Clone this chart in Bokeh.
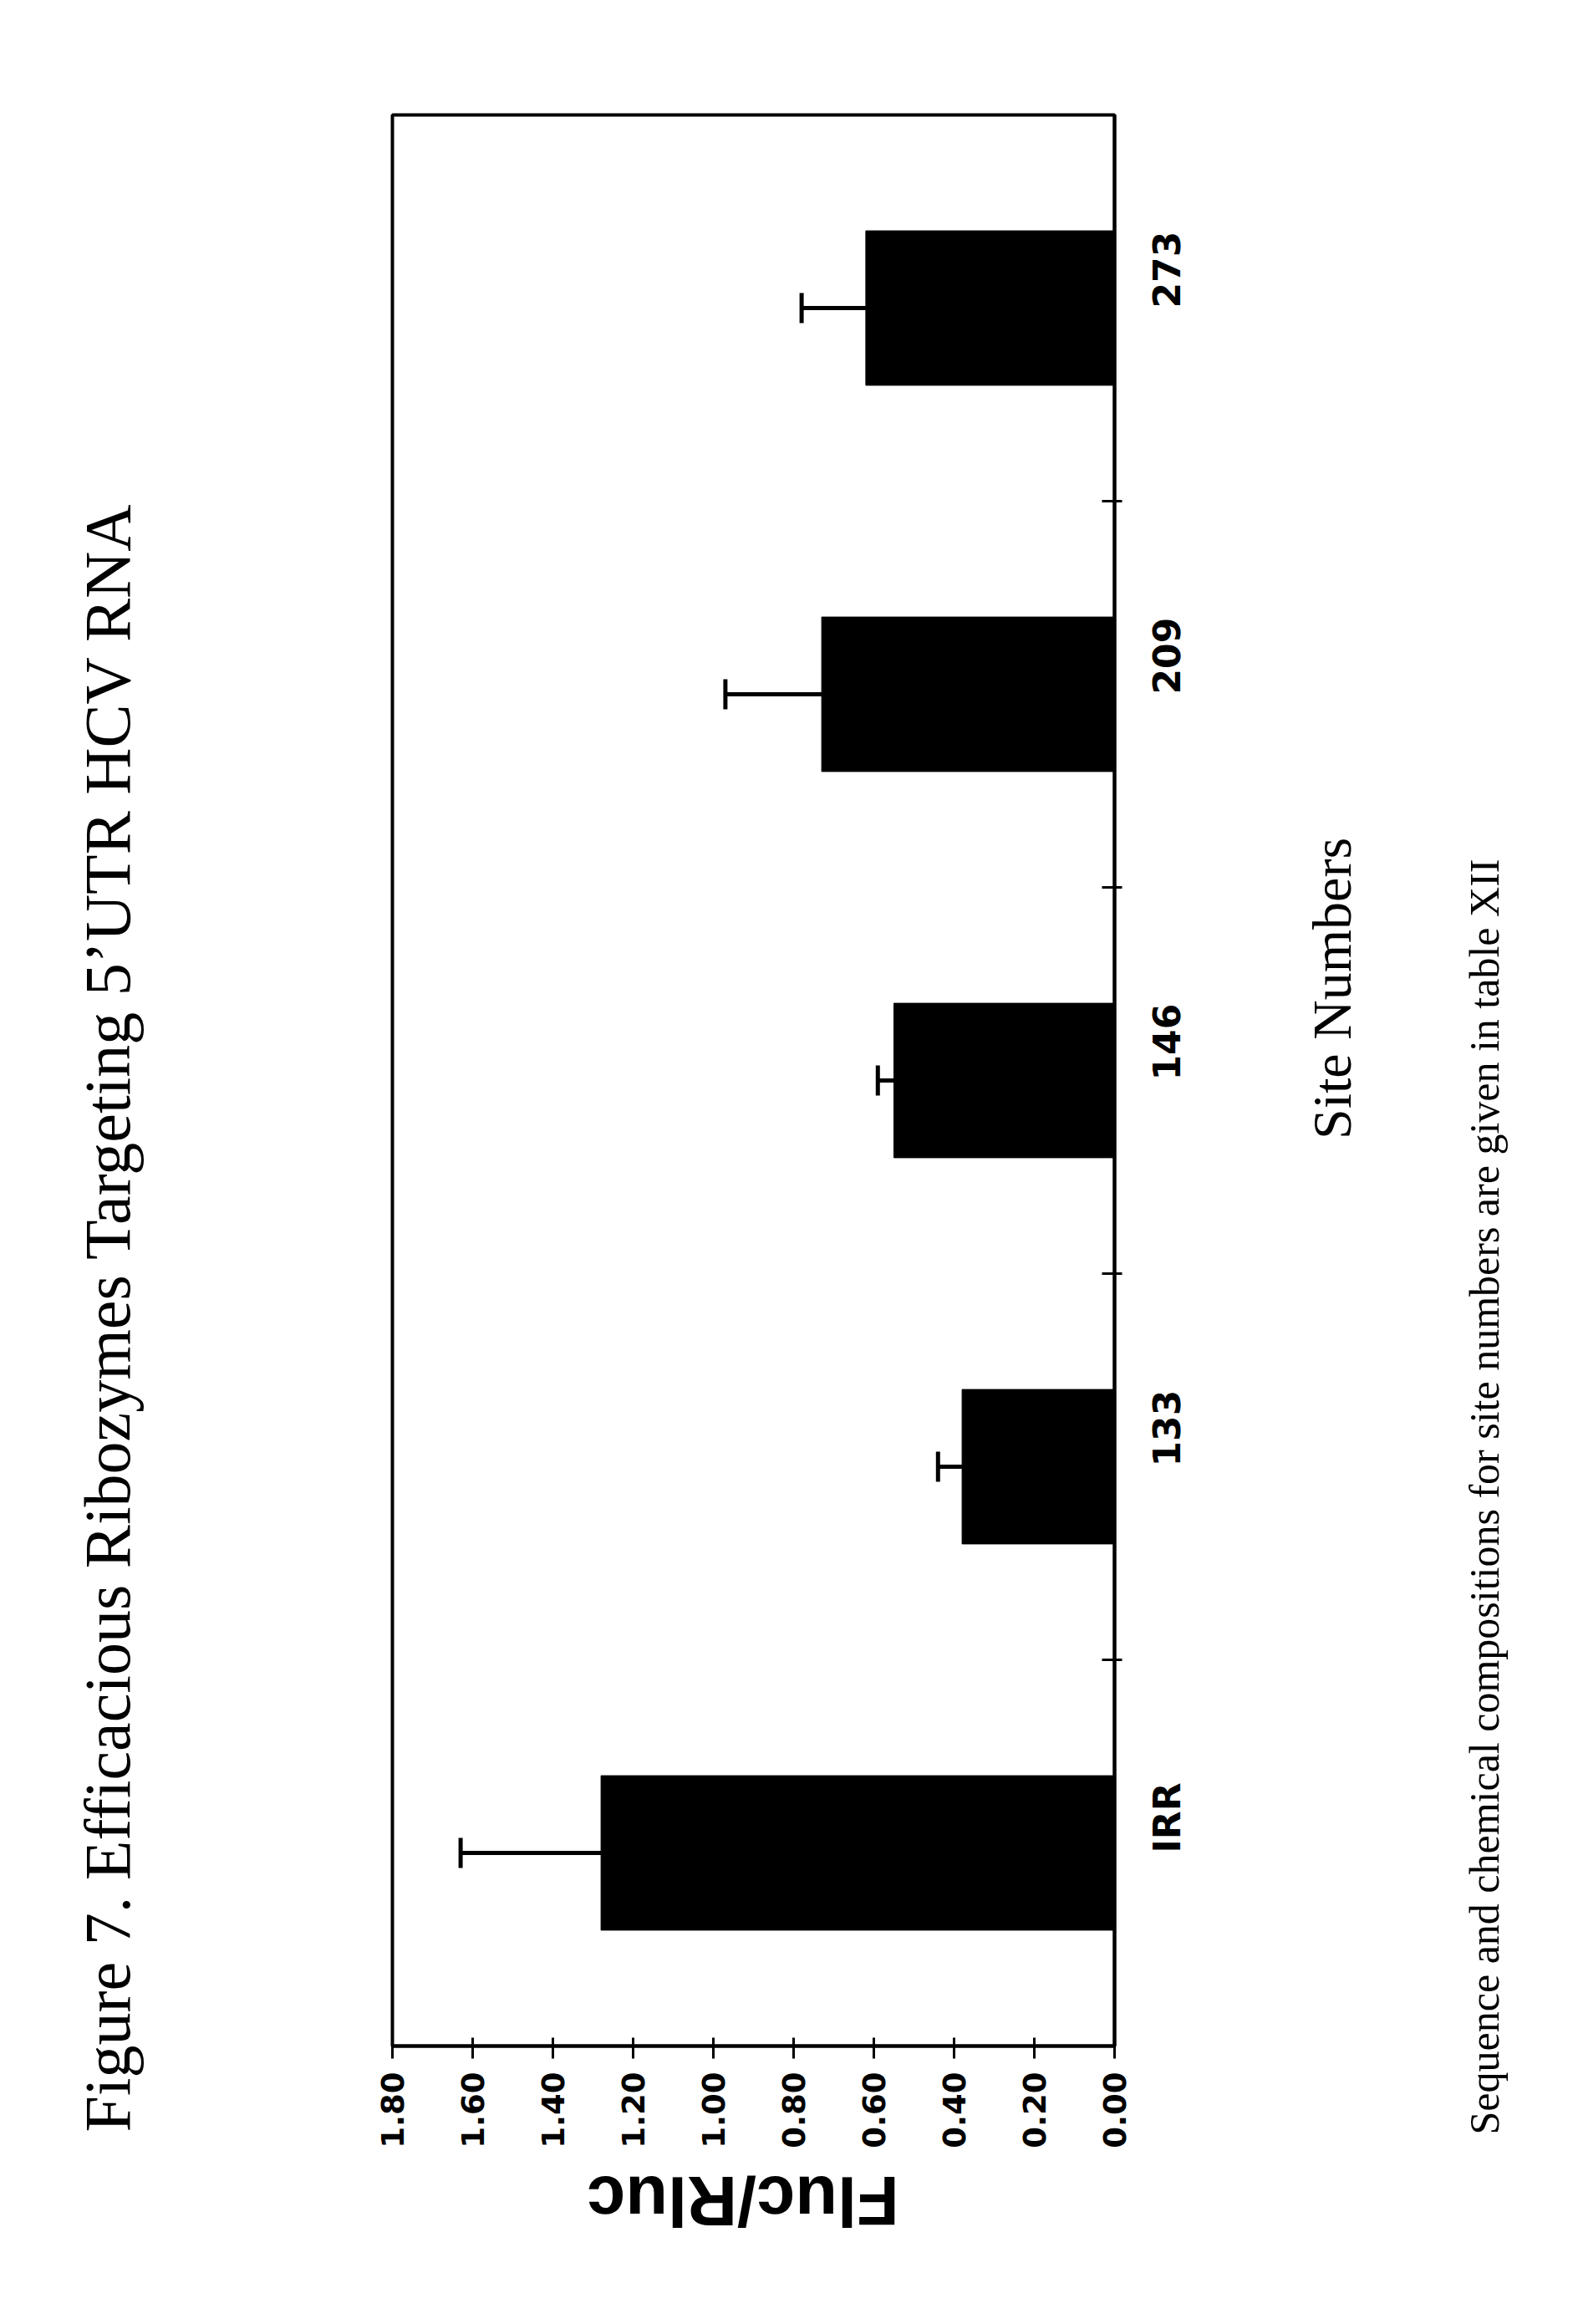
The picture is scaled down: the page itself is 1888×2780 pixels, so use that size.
import math
from bokeh.plotting import figure
from bokeh.models import (Range1d, ColumnDataSource, FixedTicker, LinearAxis,
                          Whisker, TeeHead, NumeralTickFormatter)
from bokeh.layouts import row, column
from bokeh.core.properties import value
from bokeh.embed import file_html
from bokeh.resources import INLINE

# ---- data ----
sites = ["IRR", "133", "146", "209", "273"]
ratio = [1.28, 0.38, 0.55, 0.73, 0.62]
err_up = [0.35, 0.06, 0.04, 0.24, 0.16]
value_ticks = [0.0, 0.2, 0.4, 0.6, 0.8, 1.0, 1.2, 1.4, 1.6, 1.8]

title_text = "Figure 7. Efficacious Ribozymes Targeting 5\u2019UTR HCV RNA"
value_label = "Fluc/Rluc"
site_label = "Site Numbers"
note_text = "Sequence and chemical compositions for site numbers are given in table XII"

pos = [i + 0.5 for i in range(len(sites))]
src = ColumnDataSource(dict(
    y=pos, val=ratio,
    lower=ratio,
    upper=[r + e for r, e in zip(ratio, err_up)],
))

# ---- page geometry (pixels) ----
TOTAL_W, TOTAL_H = 1870, 2760
LEFT_W = 449
BL, BR, BT, BB = 20, 150, 137, 128
FRAME_W, FRAME_H = 864, 2310
MAIN_W = BL + FRAME_W + BR
MAIN_H = BT + FRAME_H + BB
RIGHT_W = TOTAL_W - LEFT_W - MAIN_W
BOTTOM_H = TOTAL_H - MAIN_H


def text_panel(w, h):
    f = figure(width=w, height=h, output_backend="svg", toolbar_location=None,
               x_range=Range1d(0, w), y_range=Range1d(h, 0),
               x_axis_location=None, y_axis_location=None,
               min_border=0, outline_line_color=None,
               background_fill_color="white", border_fill_color="white")
    f.grid.visible = False
    return f


# ---- main chart ----
p = figure(width=MAIN_W, height=MAIN_H, output_backend="svg", toolbar_location=None,
           x_range=Range1d(1.8, 0), y_range=Range1d(0, len(sites)),
           x_axis_location="below", y_axis_location=None,
           min_border_left=BL, min_border_right=BR,
           min_border_top=BT, min_border_bottom=BB,
           background_fill_color="white", border_fill_color="white")
p.grid.visible = False
p.outline_line_color = "black"
p.outline_line_width = 4

p.hbar(y="y", left=0, right="val", height=0.4, source=src,
       fill_color="black", line_color="black")

wh = Whisker(base="y", lower="lower", upper="upper", dimension="width",
             source=src, line_color="black", line_width=5,
             upper_head=TeeHead(size=36, line_width=5, line_color="black"),
             lower_head=None)
p.add_layout(wh)

xa = p.xaxis[0]
xa.ticker = FixedTicker(ticks=value_ticks)
xa.formatter = NumeralTickFormatter(format="0.00")
xa.major_label_orientation = math.pi / 2
xa.major_label_text_font = "DejaVu Sans"
xa.major_label_text_font_style = "bold"
xa.major_label_text_font_size = "37px"
xa.major_label_text_color = "black"
xa.major_label_standoff = 16
xa.axis_line_width = 4
xa.axis_line_color = "black"
xa.major_tick_in = 10
xa.major_tick_out = 15
xa.major_tick_line_width = 3
xa.major_tick_line_color = "black"
xa.minor_tick_line_color = None

ya = LinearAxis(ticker=FixedTicker(ticks=pos, minor_ticks=list(range(1, len(sites)))))
ya.major_label_overrides = {y: s for y, s in zip(pos, sites)}
ya.major_label_orientation = math.pi / 2
ya.major_label_text_font = "DejaVu Sans"
ya.major_label_text_font_style = "bold"
ya.major_label_text_font_size = "44px"
ya.major_label_text_color = "black"
ya.major_label_standoff = 54
ya.major_tick_line_color = None
ya.major_tick_in = 0
ya.major_tick_out = 0
ya.minor_tick_in = 15
ya.minor_tick_out = 9
ya.minor_tick_line_width = 3
ya.minor_tick_line_color = "black"
ya.axis_line_width = 4
ya.axis_line_color = "black"
p.add_layout(ya, "right")

# ---- text panels (anchored at text centres) ----
left = text_panel(LEFT_W, TOTAL_H)
left.text(x=[128], y=[1575], text=[title_text], angle=math.pi / 2,
          text_align="center", text_baseline="middle",
          text_font=value("Liberation Serif"), text_font_size=value("78px"),
          text_color="black")

bottom = text_panel(MAIN_W, BOTTOM_H)
bottom.text(x=[951 - LEFT_W], y=[2632 - MAIN_H], text=[value_label], angle=math.pi,
            text_align="center", text_baseline="middle",
            text_font=value("Liberation Sans"), text_font_style="bold",
            text_font_size=value("83px"), text_color="black")

right = text_panel(RIGHT_W, TOTAL_H)
x0 = LEFT_W + MAIN_W
right.text(x=[1593 - x0], y=[1182], text=[site_label], angle=math.pi / 2,
           text_align="center", text_baseline="middle",
           text_font=value("Liberation Serif"), text_font_size=value("66px"),
           text_color="black")
right.text(x=[1775 - x0], y=[1790], text=[note_text], angle=math.pi / 2,
           text_align="center", text_baseline="middle",
           text_font=value("Liberation Serif"), text_font_size=value("50px"),
           text_color="black")

layout = row(left, column(p, bottom), right)
open("out.html", "w").write(file_html(layout, INLINE))
